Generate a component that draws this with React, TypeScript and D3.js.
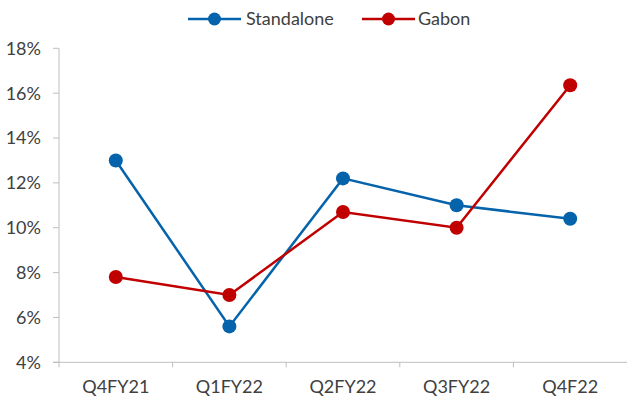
import React from "react";
import * as d3 from "d3";

const categories = ["Q4FY21", "Q1FY22", "Q2FY22", "Q3FY22", "Q4F22"];
const standalone = [13.0, 5.6, 12.2, 11.0, 10.4];
const gabon = [7.8, 7.0, 10.7, 10.0, 16.35];
const yTicks = [4, 6, 8, 10, 12, 14, 16, 18];

const W = 627;
const H = 398;
const left = 59;
const right = 627;
const top = 48.3;
const bottom = 362.3;
const FONT = "Lato, 'Open Sans', sans-serif";
const TEXT = "#404040";
const AXIS = "#bfbfbf";
const BLUE = "#0563ab";
const RED = "#c00000";
const FS = 18;

export default function App() {
  const x = d3.scaleBand<string>().domain(categories).range([left, right]);
  const y = d3.scaleLinear().domain([4, 18]).range([bottom, top]);
  const cx = (c: string) => (x(c) as number) + x.bandwidth() / 2;
  const line = d3
    .line<number>()
    .x((_, i) => cx(categories[i]))
    .y((d) => y(d));

  const series = [
    { name: "Standalone", values: standalone, color: BLUE },
    { name: "Gabon", values: gabon, color: RED },
  ];

  const legend = [
    { name: "Standalone", color: BLUE, x0: 188, tx: 246 },
    { name: "Gabon", color: RED, x0: 362, tx: 418 },
  ];

  return (
    <svg
      width={W}
      height={H}
      style={{ position: "absolute", left: 0, top: 0, fontFamily: FONT }}
    >
      <rect width={W} height={H} fill="#fff" />
      {/* Y axis */}
      <line x1={left} x2={left} y1={top} y2={bottom} stroke={AXIS} strokeWidth={1} />
      {yTicks.map((t) => (
        <g key={t}>
          <line x1={left - 6} x2={left} y1={y(t)} y2={y(t)} stroke={AXIS} strokeWidth={1} />
          <text
            x={41}
            y={y(t)}
            dy="0.36em"
            textAnchor="end"
            fontSize={FS}
            fill={TEXT}
          >
            {t}%
          </text>
        </g>
      ))}
      {/* X axis */}
      <line x1={left - 6} x2={right} y1={bottom} y2={bottom} stroke={AXIS} strokeWidth={1} />
      {categories.map((c) => (
        <g key={c}>
          <line
            x1={x(c) as number}
            x2={x(c) as number}
            y1={bottom}
            y2={bottom + 5}
            stroke={AXIS}
            strokeWidth={1}
          />
          <text x={cx(c)} y={393} textAnchor="middle" fontSize={FS} fill={TEXT}>
            {c}
          </text>
        </g>
      ))}
      {/* Series */}
      {series.map((s) => (
        <g key={s.name}>
          <path d={line(s.values) || ""} fill="none" stroke={s.color} strokeWidth={2.5} />
          {s.values.map((v, i) => (
            <circle key={i} cx={cx(categories[i])} cy={y(v)} r={7} fill={s.color} />
          ))}
        </g>
      ))}
      {/* Legend */}
      {legend.map((l) => (
        <g key={l.name}>
          <line x1={l.x0} x2={l.x0 + 53} y1={19} y2={19} stroke={l.color} strokeWidth={2.5} />
          <circle cx={l.x0 + 26.5} cy={19} r={6.5} fill={l.color} />
          <text x={l.tx} y={19} dy="0.36em" fontSize={FS} fill={TEXT}>
            {l.name}
          </text>
        </g>
      ))}
    </svg>
  );
}
